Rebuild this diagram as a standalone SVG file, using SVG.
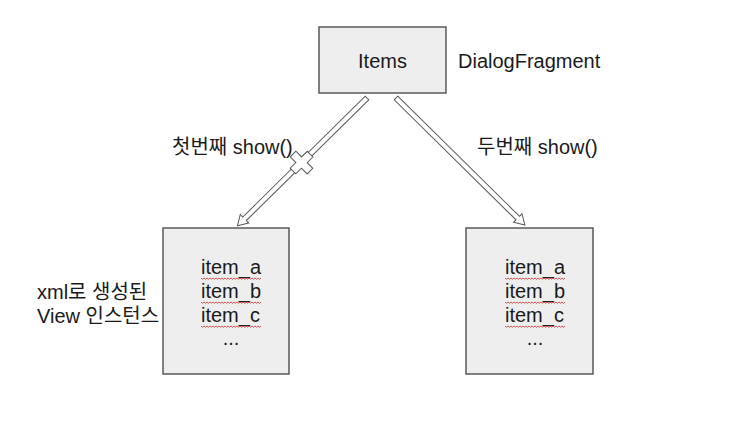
<svg xmlns="http://www.w3.org/2000/svg" width="750" height="444" viewBox="0 0 750 444">
<style>
.box{fill:#eeeeee;stroke:#595959;stroke-width:1.5}
.t{font-family:"Liberation Sans","Noto Sans CJK KR",Arial,sans-serif;font-size:20px;fill:#1a1a1a}
.arr{fill:#ffffff;stroke:#595959;stroke-width:1}
.sq{fill:none;stroke:#d04040;stroke-width:0.9}
</style>
<defs>
<path id="wave" d="M0 0 l1.5 1.3 1.5 -1.3 1.5 1.3 1.5 -1.3 1.5 1.3 1.5 -1.3 1.5 1.3 1.5 -1.3 1.5 1.3 1.5 -1.3 1.5 1.3 1.5 -1.3 1.5 1.3 1.5 -1.3 1.5 1.3 1.5 -1.3 1.5 1.3 1.5 -1.3 1.5 1.3 1.5 -1.3 1.5 1.3 1.5 -1.3 1.5 1.3 1.5 -1.3 1.5 1.3 1.5 -1.3 1.5 1.3 1.5 -1.3 1.5 1.3 1.5 -1.3 1.5 1.3 1.5 -1.3 1.5 1.3 1.5 -1.3 1.5 1.3 1.5 -1.3 1.5 1.3 1.5 -1.3 1.5 1.3 1.5 -1.3"/>
</defs>
<rect width="750" height="444" fill="#ffffff"/>
<g id="connectors">
<g id="arrow-first" transform="translate(367,98) rotate(135.4)">
<polygon class="arr" points="0,-2.5 172,-2.5 172,-6 182,0 172,6 172,2.5 0,2.5"/>
<polygon class="arr" points="88,-4 88,-12 96,-12 96,-4 104,-4 104,4 96,4 96,12 88,12 88,4 80,4 80,-4"/>
</g>
<g id="arrow-second" transform="translate(396,98) rotate(44.6)">
<polygon class="arr" points="0,-2.5 171,-2.5 171,-6 181,0 171,6 171,2.5 0,2.5"/>
</g>
<text class="t" x="172" y="154">첫번째 show()</text>
<text class="t" x="477" y="154">두번째 show()</text>
</g>
<g id="node-items">
<rect class="box" x="319" y="27" width="127" height="66"/>
<text class="t" x="382.5" y="68" text-anchor="middle">Items</text>
</g>
<g id="label-dialog">
<text class="t" x="458" y="68">DialogFragment</text>
</g>
<g id="node-view-left">
<rect class="box" x="163" y="228" width="126" height="146"/>
<text class="t" x="201" y="274">item_a</text>
<text class="t" x="201" y="298">item_b</text>
<text class="t" x="201" y="322">item_c</text>
<text class="t" x="231" y="345" text-anchor="middle">...</text>
<use href="#wave" class="sq" x="201" y="278"/>
<use href="#wave" class="sq" x="201" y="302"/>
<use href="#wave" class="sq" x="201" y="326"/>
</g>
<g id="node-view-right">
<rect class="box" x="466" y="228" width="127" height="146"/>
<text class="t" x="505" y="274">item_a</text>
<text class="t" x="505" y="298">item_b</text>
<text class="t" x="505" y="322">item_c</text>
<text class="t" x="535" y="345" text-anchor="middle">...</text>
<use href="#wave" class="sq" x="505" y="278"/>
<use href="#wave" class="sq" x="505" y="302"/>
<use href="#wave" class="sq" x="505" y="326"/>
</g>
<g id="label-xml">
<text class="t" x="37" y="299">xml로 생성된</text>
<text class="t" x="37" y="323">View 인스턴스</text>
</g>
</svg>
